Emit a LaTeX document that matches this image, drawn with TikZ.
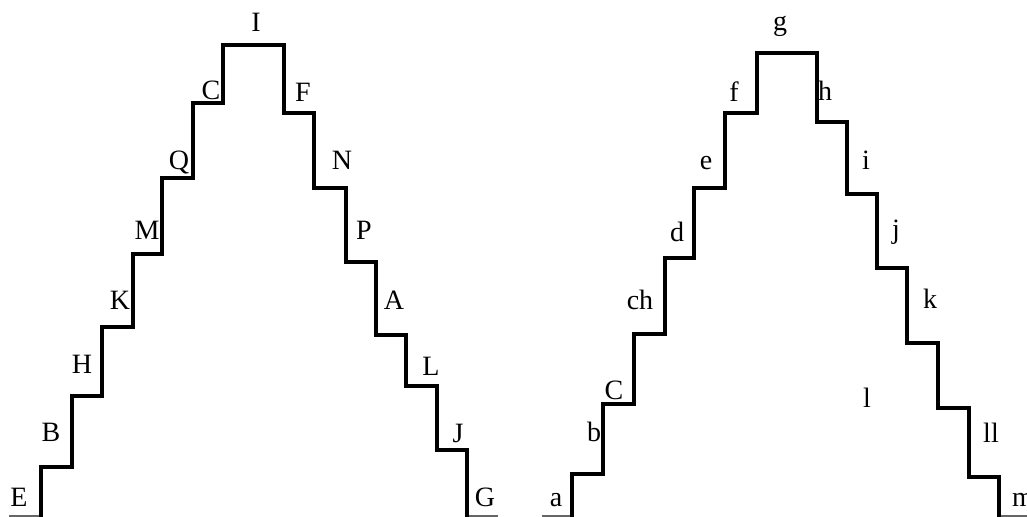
\documentclass[tikz,border=0pt]{standalone}
\usepackage{fontspec}
\setmainfont{Liberation Serif}
\begin{document}
\begin{tikzpicture}[x=0.75pt,y=-0.75pt,
  stair/.style={line width=3pt,line join=miter},
  base/.style={line width=0.9pt,black!60},
  lbl/.style={inner sep=0pt,font=\fontsize{21}{24}\selectfont}]
\useasboundingbox (0,0) rectangle (1027,517);
% left staircase
\draw[base] (9,516) -- (41,516);
\draw[base] (467,516) -- (498,516);
\draw[stair] (41,517) -- (41,467) -- (72,467) -- (72,396) -- (102,396) -- (102,327) -- (133,327) -- (133,254) -- (162,254) -- (162,178) -- (193,178) -- (193,103) -- (223,103) -- (223,45) -- (284,45) -- (284,113) -- (314,113) -- (314,188) -- (346,188) -- (346,262) -- (376,262) -- (376,335) -- (406,335) -- (406,386) -- (437,386) -- (437,450) -- (467,450) -- (467,517);
% right staircase
\draw[base] (542,516) -- (572,516);
\draw[base] (999,516) -- (1027,516);
\draw[stair] (572,517) -- (572,474) -- (603,474) -- (603,404) -- (634,404) -- (634,334) -- (665,334) -- (665,258) -- (694,258) -- (694,188) -- (725,188) -- (725,113) -- (757,113) -- (757,53) -- (817,53) -- (817,122) -- (847,122) -- (847,194) -- (877,194) -- (877,268) -- (907,268) -- (907,343) -- (938,343) -- (938,408) -- (969,408) -- (969,477) -- (999,477) -- (999,517);
% left labels
\node[lbl] (I) at (256,22) {I};
\node[lbl] (C) at (211,90) {C};
\node[lbl] (Q) at (179,162) {Q};
\node[lbl] (M) at (147,230) {M};
\node[lbl] (K) at (120,300) {K};
\node[lbl] (H) at (82,364) {H};
\node[lbl] (B) at (51,432) {B};
\node[lbl] (E) at (19,497) {E};
\node[lbl] (F) at (303,92) {F};
\node[lbl] (N) at (342,160) {N};
\node[lbl] (P) at (364,230) {P};
\node[lbl] (A) at (394,300) {A};
\node[lbl] (L) at (431,366) {L};
\node[lbl] (J) at (458,433) {J};
\node[lbl] (G) at (485,497) {G};
% right labels
\node[lbl] (g) at (780,26) {g};
\node[lbl] (f) at (734,92) {f};
\node[lbl] (e) at (706,163) {e};
\node[lbl] (d) at (677,232) {d};
\node[lbl] (ch) at (640,300) {ch};
\node[lbl] (C2) at (614,390) {C};
\node[lbl] (b) at (594,432) {b};
\node[lbl] (a) at (556,500) {a};
\node[lbl] (h) at (825,91) {h};
\node[lbl] (i) at (866,160) {i};
\node[lbl] (j) at (896,232) {j};
\node[lbl] (k) at (930,299) {k};
\node[lbl] (l) at (867,398) {l};
\node[lbl] (ll) at (991,433) {ll};
\node[lbl] (m) at (1023,500) {m};
\end{tikzpicture}
\end{document}
